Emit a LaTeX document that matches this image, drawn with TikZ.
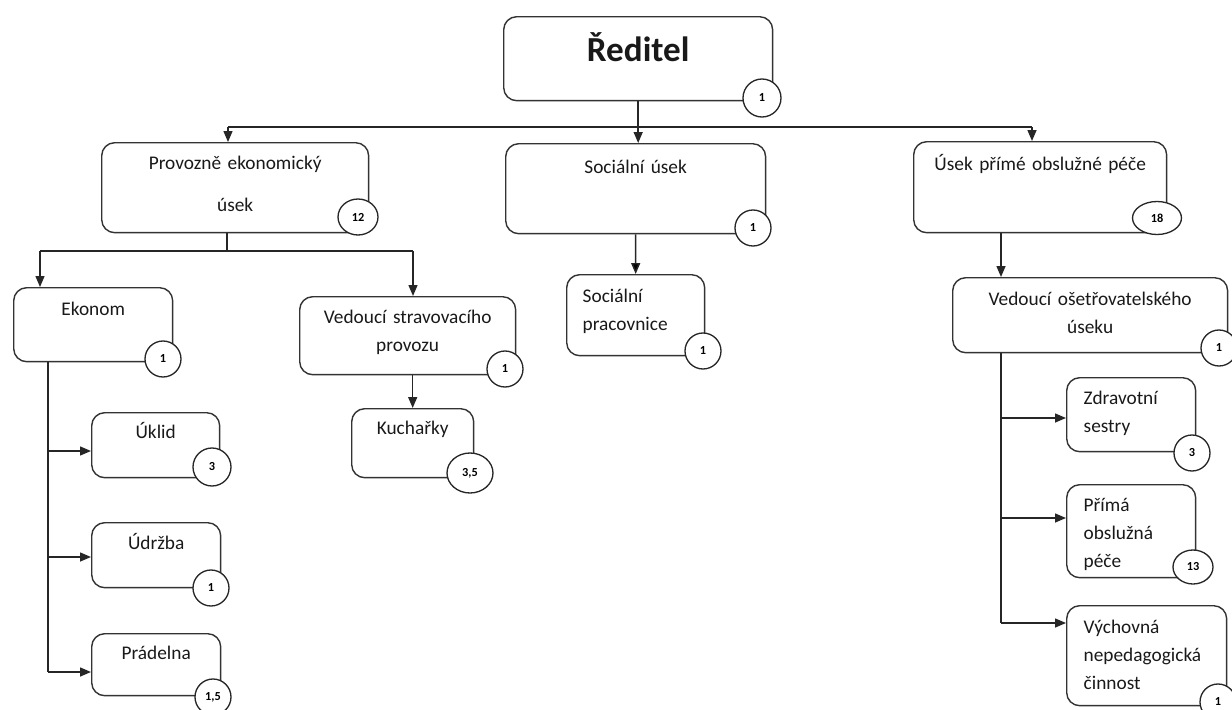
\documentclass[tikz,border=0pt]{standalone}
\usepackage{fontspec}
\setmainfont{Carlito}
\usepackage{tikz}
\usetikzlibrary{arrows.meta,shapes.geometric}

\begin{document}
\begin{tikzpicture}[x=0.02cm,y=-0.02cm,
    >={Triangle[length=2.2mm,width=1.8mm]},
    line/.style={draw=black!85,line width=0.85pt},
    box/.style n args={3}{shape=rectangle,draw=black!80,line width=0.8pt,rounded corners=0.26cm,anchor=north west,inner sep=0pt,align=center,text=black!90,font=\fontsize{11}{16}\selectfont,text width=#1cm,text height=#2cm,text depth=#3cm},
    leftbox/.style={align=left,inner xsep=0.34cm},
    count/.style={shape=ellipse,draw=black!85,line width=0.75pt,fill=white,inner sep=0pt,minimum width=0.72cm,minimum height=0.72cm,font=\fontsize{7}{8}\selectfont\bfseries}]
                \useasboundingbox (0,0) rectangle (1232,710);

                % boxes
                \node[box={5.38}{0.90}{0.78},font=\fontsize{20}{24}\selectfont\bfseries] (reditel) at (503,16) {Ředitel};
                \node[box={5.34}{0.54}{1.26},font=\fontsize{11}{24}\selectfont] (provozne) at (101,142) {Provozně ekonomický\\úsek};
                \node[box={5.20}{0.60}{1.20}] (socialni) at (505,143) {Sociální úsek};
                \node[box={5.06}{0.58}{1.24}] (usek) at (913,141) {Úsek přímé obslužné péče};
                \node[box={3.18}{0.56}{0.92}] (ekonom) at (13,287) {Ekonom};
                \node[box={4.32}{0.54}{1.02}] (vedstrav) at (299,296) {Vedoucí stravovacího\\provozu};
                \node[box={2.12}{0.56}{1.06},leftbox,inner xsep=0.32cm] (socprac) at (566,274) {Sociální\\pracovnice};
                \node[box={5.50}{0.56}{0.94}] (vedoset) at (952,277) {Vedoucí ošetřovatelského\\úseku};
                \node[box={2.56}{0.52}{0.78}] (uklid) at (91,412) {Úklid};
                \node[box={2.58}{0.54}{0.76}] (udrzba) at (91,522) {Údržba};
                \node[box={2.58}{0.52}{0.72}] (pradelna) at (91,633) {Prádelna};
                \node[box={2.44}{0.52}{0.86}] (kucharky) at (351,408) {Kuchařky};
                \node[box={1.90}{0.54}{0.94},leftbox] (zdrav) at (1066,377) {Zdravotní\\sestry};
                \node[box={1.90}{0.54}{1.32},leftbox] (prima) at (1066,484) {Přímá\\obslužná\\péče};
                \node[box={2.52}{0.56}{1.44},leftbox] (vychov) at (1066,605) {Výchovná\\nepedagogická\\činnost};

                % counts
                \node[count,minimum width=0.76cm,minimum height=0.76cm] (reditel-n) at (762,98) {1};
                \node[count,minimum width=0.80cm] (provozne-n) at (358,217) {12};
                \node[count] (socialni-n) at (753,228) {1};
                \node[count,minimum width=0.98cm,minimum height=0.66cm] (usek-n) at (1157,218) {18};
                \node[count] (ekonom-n) at (163,359) {1};
                \node[count] (vedstrav-n) at (505,369) {1};
                \node[count] (socprac-n) at (703,351) {1};
                \node[count] (vedoset-n) at (1219,348) {1};
                \node[count,minimum width=0.76cm,minimum height=0.76cm] (uklid-n) at (212,467) {3};
                \node[count] (udrzba-n) at (211,588) {1};
                \node[count] (pradelna-n) at (213,697) {1,5};
                \node[count,minimum width=0.92cm,minimum height=0.80cm] (kucharky-n) at (470,473) {3,5};
                \node[count] (zdrav-n) at (1192,453) {3};
                \node[count,minimum width=0.80cm,minimum height=0.68cm] (prima-n) at (1193,567) {13};
                \node[count] (vychov-n) at (1218,702) {1};

                % connectors
                \coordinate (bus-l) at (228,127);
                \coordinate (bus-r) at (1032,127);
                \draw[line] (bus-l) -- (bus-r);
                \draw[line,->] (bus-l) -- (bus-l |- provozne.north);
                \draw[line,->] (bus-r) -- (bus-r |- usek.north);
                \draw[line,->] (reditel.south) -- (reditel.south |- socialni.north);

                \coordinate (pe-m) at (227,251);
                \coordinate (pe-l) at (40,251);
                \coordinate (pe-r) at (413,251);
                \draw[line] (pe-m |- provozne.south) -- (pe-m);
                \draw[line] (pe-l) -- (pe-r);
                \draw[line,->] (pe-l) -- (pe-l |- ekonom.north);
                \draw[line,->] (pe-r) -- (pe-r |- vedstrav.north);

                \coordinate (ek-a) at (48,451);
                \coordinate (ek-b) at (48,557);
                \coordinate (ek-c) at (48,672);
                \draw[line] (ek-c |- ekonom.south) -- (ek-c);
                \draw[line,->] (ek-a) -- (ek-a -| uklid.west);
                \draw[line,->] (ek-b) -- (ek-b -| udrzba.west);
                \draw[line,->] (ek-c) -- (ek-c -| pradelna.west);

                \draw[line,->] (kucharky.north |- vedstrav.south) -- (kucharky.north);
                \path[line,->] (socialni) edge (socprac);

                \coordinate (os-a) at (1001,418);
                \coordinate (os-b) at (1001,518);
                \coordinate (os-c) at (1001,623);
                \draw[line,->] (os-c |- usek.south) -- (os-c |- vedoset.north);
                \draw[line] (os-c |- vedoset.south) -- (os-c);
                \draw[line,->] (os-a) -- (os-a -| zdrav.west);
                \draw[line,->] (os-b) -- (os-b -| prima.west);
                \draw[line,->] (os-c) -- (os-c -| vychov.west);
            \end{tikzpicture}
\end{document}
